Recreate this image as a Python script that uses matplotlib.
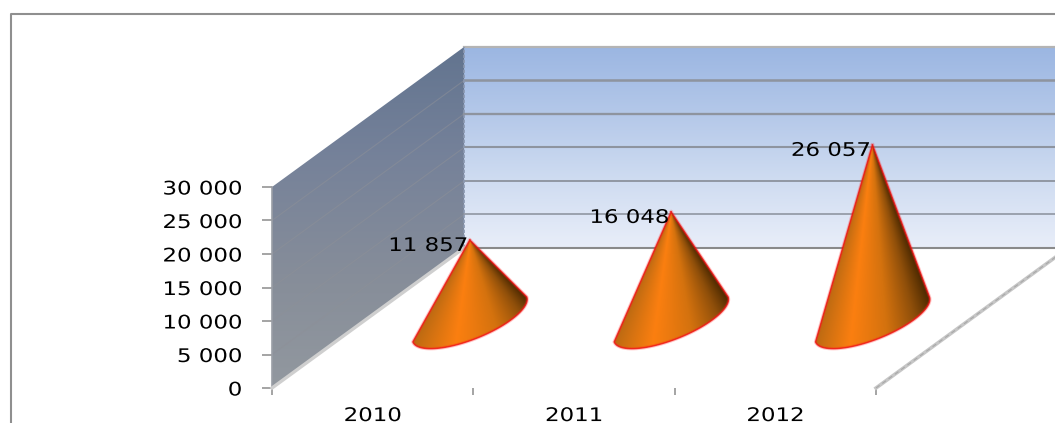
import numpy as np
import matplotlib
matplotlib.use("Agg")
import matplotlib.pyplot as plt
from matplotlib.colors import LinearSegmentedColormap
from matplotlib.lines import Line2D
from matplotlib.patches import Polygon
from matplotlib.patheffects import AbstractPathEffect
from matplotlib.ticker import FixedLocator, FuncFormatter
from matplotlib.transforms import Affine2D

years = ["2010", "2011", "2012"]
values = [11857, 16048, 26057]
y_ticks = [0, 5000, 10000, 15000, 20000, 25000, 30000]

W, H = 1055, 423
FONT_SIZE = 13.5
WIDEN = 1.22
plt.rcParams["font.family"] = "DejaVu Sans"


def spaced(v):
    return f"{int(v):,}".replace(",", " ")


class StretchX(AbstractPathEffect):
    """Widen glyphs horizontally about one edge or the centre of the text."""

    def __init__(self, factor, align):
        super().__init__()
        self.factor = factor
        self.align = align

    def draw_path(self, renderer, gc, tpath, affine, rgbFace=None):
        box = tpath.get_extents(affine)
        anchor = {"right": box.x1, "center": (box.x0 + box.x1) / 2}[self.align]
        stretch = Affine2D().translate(-anchor, 0).scale(self.factor, 1).translate(anchor, 0)
        renderer.draw_path(gc, tpath, affine + stretch, rgbFace)


fig = plt.figure(figsize=(W / 100, H / 100), dpi=100, facecolor="white")
ax = fig.add_axes([272 / W, (H - 388) / H, 604 / W, 201 / H])
ax.patch.set_visible(False)
for spine in ax.spines.values():
    spine.set_visible(False)

XMAX, VMAX = 3, 30000
DEPTH_X, DEPTH_V = 0.954, 20900


def proj(x, v, d):
    """Oblique projection of category x, value v and depth d (0 front, 1 back)."""
    return x + DEPTH_X * d, v + DEPTH_V * d


def gradient(colors):
    return LinearSegmentedColormap.from_list("g", colors)


# Back wall
bx0, bv0 = proj(0, 0, 1)
bx1, bv1 = proj(XMAX, VMAX, 1)
back_cmap = gradient(["#e9eef9", "#cfdcf1", "#b4c8e9", "#9bb6e2"])
ax.imshow(np.linspace(0, 1, 256)[:, None], extent=[bx0, bx1, bv0, bv1], origin="lower",
          aspect="auto", cmap=back_cmap, zorder=1, interpolation="bilinear", clip_on=False)

# Side wall
side_pts = [proj(0, 0, 0), proj(0, VMAX, 0), proj(0, VMAX, 1), proj(0, 0, 1)]
side = Polygon(side_pts, closed=True, transform=ax.transData, facecolor="none", edgecolor="none")
side.set_clip_on(False)
ax.add_patch(side)
side_cmap = gradient(["#92989f", "#868d99", "#76829a", "#62748f"])
side_im = ax.imshow(np.linspace(0, 1, 256)[:, None], extent=[0, DEPTH_X, 0, VMAX + DEPTH_V],
                    origin="lower", aspect="auto", cmap=side_cmap, zorder=2, interpolation="bilinear")
side_im.set_clip_box(fig.bbox)
side_im.set_clip_path(side)

# Grid on both walls
for v in y_ticks[1:]:
    frac = v / VMAX
    px, pv = proj(0, v, 1)
    qx, qv = proj(XMAX, v, 1)
    if v == VMAX:
        ax.plot([px, qx], [pv, qv], color="#b4b4b4", lw=1.6, zorder=3, clip_on=False)
    else:
        ax.plot([px, qx], [pv, qv], color="#8e949f", lw=1.0 + 1.0 * frac, zorder=3, clip_on=False)
    if v < VMAX:
        sx0, sv0 = proj(0, v, 0)
        ax.plot([sx0, px], [sv0, pv], color="#8d9098", lw=0.8, alpha=0.55, zorder=3, clip_on=False)
ax.plot(*zip(proj(0, 0, 1), proj(XMAX, 0, 1)), color="#8a8a8a", lw=1.5, zorder=3, clip_on=False)

# Wall edges and floor edges
ax.plot(*zip(proj(0, 0, 0), proj(0, VMAX, 0)), color="#9a9ea6", lw=1.2, zorder=3, clip_on=False)
ax.plot(*zip(proj(0, 0, 1), proj(0, VMAX, 1)), color="#8b98b0", lw=1.2, ls=(0, (2, 1)), zorder=3, clip_on=False)
ax.plot(*zip(proj(0, 0, 0), proj(0, 0, 1)), color="#cfcfcf", lw=2.4, zorder=3, clip_on=False)
ax.plot(*zip(proj(XMAX, 0, 0), proj(XMAX, 0, 1)), color="#c6c6c6", lw=2.6, zorder=3, clip_on=False)
ax.plot(*zip(proj(XMAX, 0, 0), proj(XMAX, 0, 1)), color="#a8a8a8", lw=0.8, ls=(0, (4, 3)), zorder=3, clip_on=False)

# Cones
cone_cmap = LinearSegmentedColormap.from_list(
    "cone",
    [(0.0, "#bc6a12"), (0.27, "#fb7f10"), (0.55, "#d4720e"), (0.8, "#8f4f0a"), (1.0, "#4a2800")],
)
BASE_DEPTH = 0.49
HALF_X, HALF_V = 0.283, 3360
BULGE_X, BULGE_V = 0.035, -2800
for i, val in enumerate(values):
    cx, cv = proj(i + 0.515, 0, BASE_DEPTH)
    ax_, av = cx, cv + val
    t = np.linspace(np.pi, 0, 60)
    rim_x = cx + HALF_X * np.cos(t) + BULGE_X * np.sin(t)
    rim_v = cv + HALF_V * np.cos(t) + BULGE_V * np.sin(t)
    outline = np.column_stack([np.r_[ax_, rim_x], np.r_[av, rim_v]])
    cone = Polygon(outline, closed=True, transform=ax.transData, facecolor="none", edgecolor="none")
    cone.set_clip_on(False)
    ax.add_patch(cone)

    gx = np.linspace(outline[:, 0].min(), outline[:, 0].max(), 300)
    gv = np.linspace(outline[:, 1].min(), av, 300)
    xx, vv = np.meshgrid(gx, gv)
    slope = (xx - ax_) / np.maximum(av - vv, 1e-6)
    slope_l = (rim_x[0] - ax_) / (av - rim_v[0])
    slope_r = (rim_x[-1] - ax_) / (av - rim_v[-1])
    shade = np.clip((slope - slope_l) / (slope_r - slope_l), 0, 1)
    im = ax.imshow(shade, extent=[gx[0], gx[-1], gv[0], gv[-1]], origin="lower", aspect="auto",
                   cmap=cone_cmap, vmin=0, vmax=1, zorder=4, interpolation="bilinear")
    im.set_clip_box(fig.bbox)
    im.set_clip_path(cone)

    closed = np.vstack([outline, outline[:1]])
    ax.plot(closed[:, 0], closed[:, 1], color="#ff2020", lw=2.4, alpha=0.25, zorder=5,
            solid_joinstyle="round", clip_on=False)
    ax.plot(closed[:, 0], closed[:, 1], color="#f01010", lw=1.0, alpha=0.8, zorder=5,
            solid_joinstyle="round", clip_on=False)

    ax.annotate(spaced(val), (ax_, av), xytext=(-1.5, -4), textcoords="offset points",
                ha="right", va="center", fontsize=FONT_SIZE, color="black", zorder=6,
                annotation_clip=False, path_effects=[StretchX(WIDEN, "right")])

# Axes
ax.set_xlim(0, XMAX)
ax.set_ylim(0, VMAX)
ax.yaxis.set_major_locator(FixedLocator(y_ticks))
ax.yaxis.set_major_formatter(FuncFormatter(lambda v, _: spaced(v)))
ax.tick_params(axis="y", length=7.2, width=1.1, color="#8c8c8c", pad=14.4, labelsize=FONT_SIZE, labelcolor="black")
ax.xaxis.set_major_locator(FixedLocator([0, 1, 2, 3]))
ax.xaxis.set_major_formatter(FuncFormatter(lambda v, _: ""))
ax.xaxis.set_minor_locator(FixedLocator([0.5, 1.5, 2.5]))
ax.xaxis.set_minor_formatter(FuncFormatter(lambda v, _: years[int(v)]))
ax.tick_params(axis="x", which="major", length=5, width=1.1, color="#8c8c8c")
ax.tick_params(axis="x", which="minor", length=0, pad=13, labelsize=FONT_SIZE, labelcolor="black")
for label in ax.get_yticklabels():
    label.set_path_effects([StretchX(WIDEN, "right")])
for label in ax.get_xticklabels(minor=True):
    label.set_path_effects([StretchX(WIDEN, "center")])

# Chart frame, open towards the right and bottom edges
frame_x, frame_y = 10.5 / W, 1 - 14 / H
fig.add_artist(Line2D([frame_x, frame_x, 1], [0, frame_y, frame_y], transform=fig.transFigure,
                      color="#8f8f8f", lw=1.5))

fig.savefig("out.png", dpi=100)
